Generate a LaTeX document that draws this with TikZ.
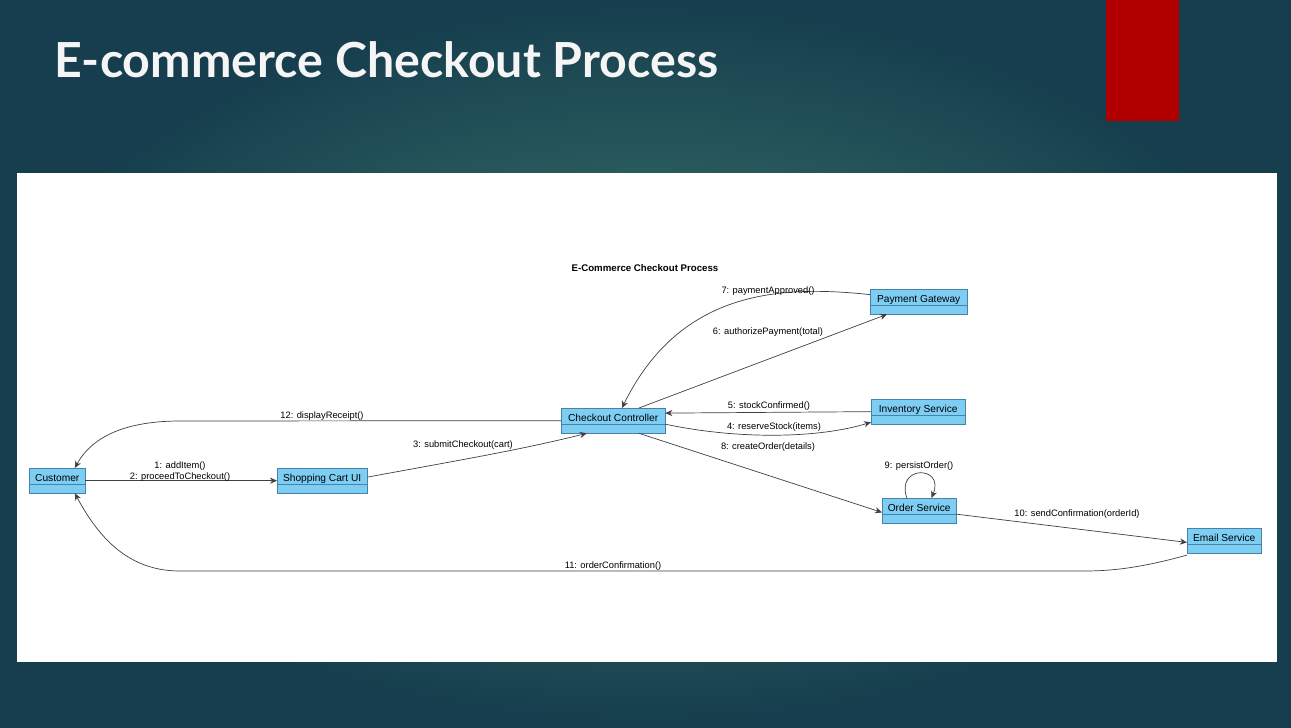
\documentclass[tikz,border=0pt]{standalone}
\usepackage{fontspec}
\setmainfont{Liberation Sans}
\newfontfamily\titlefont{Lato}
\usetikzlibrary{arrows.meta, positioning}
\definecolor{objfill}{RGB}{126,206,244}
\definecolor{objdraw}{RGB}{70,130,170}

\begin{document}
\begin{tikzpicture}[
    x=0.02cm, y=-0.02cm,
    obj/.style={draw=objdraw, fill=objfill, rectangle, inner xsep=2pt, inner ysep=1.5pt,
        text height=6pt, text depth=5pt, font=\fontsize{5.8}{7}\selectfont, anchor=north west,
        path picture={\draw[objdraw] ([yshift=-9pt]path picture bounding box.north west) -- ([yshift=-9pt]path picture bounding box.north east);}},
    msg/.style={-{Stealth[length=4pt, width=3.5pt]}, black!75, line width=0.4pt},
    lbl/.style={font=\fontsize{5.3}{6}\selectfont, inner sep=1pt}
]

    % Slide background
    \useasboundingbox (0,0) rectangle (1291,727);
    \shade[inner color={rgb,255:red,60;green,120;blue,108}, outer color={rgb,255:red,22;green,62;blue,78}] (0,0) rectangle (1291,727);
    \fill[red!70!black] (1106,0) rectangle (1179,121);
    \node[anchor=west, text=white!92!gray, font=\titlefont\bfseries\fontsize{27.5}{30}\selectfont] (slidetitle) at (48,60) {E-commerce Checkout Process};
    \fill[white] (17,173) rectangle (1277,662);

    % Diagram title
    \node[font=\bfseries\fontsize{5.5}{6}\selectfont] (dtitle) at (645,268) {E-Commerce Checkout Process};

    % Objects
    \node[obj, minimum width=56*0.567pt] (customer) at (29,468) {Customer};
    \node[obj, minimum width=90*0.567pt] (cart) at (277,468) {Shopping Cart UI};
    \node[obj, minimum width=104*0.567pt] (checkout) at (561,408) {Checkout Controller};
    \node[obj, minimum width=97*0.567pt] (payment) at (870,289) {Payment Gateway};
    \node[obj, minimum width=94*0.567pt] (inventory) at (871,399) {Inventory Service};
    \node[obj, minimum width=74*0.567pt] (order) at (882,498) {Order Service};
    \node[obj, minimum width=74*0.567pt] (email) at (1187,528) {Email Service};

    % Messages
    \draw[msg] (customer.east) -- (cart.west);
    \node[lbl] (m1) at (180,466) {1: addItem()};
    \node[lbl] (m2) at (180,477) {2: proceedToCheckout()};

    \draw[msg] ([yshift=2pt]cart.east) .. controls (460,460) and (520,450) .. ([xshift=-15pt]checkout.south);
    \node[lbl] (m3) at (463,445) {3: submitCheckout(cart)};

    \draw[msg] (checkout.west) -- (180,421) .. controls (120,421) and (90,440) .. ([xshift=10pt]customer.north);
    \node[lbl] (m12) at (322,416) {12: displayReceipt()};

    \draw[msg] ([yshift=-2pt]checkout.east) .. controls (740,440) and (820,438) .. ([yshift=-6pt]inventory.west);
    \node[lbl] (m4) at (774,427) {4: reserveStock(items)};

    \draw[msg] (inventory.west) -- ([yshift=4.3pt]checkout.east);
    \node[lbl] (m5) at (769,406) {5: stockConfirmed()};

    \draw[msg] ([xshift=-15pt]checkout.north east) -- ([xshift=-18pt]payment.south);
    \node[lbl] (m6) at (768,332) {6: authorizePayment(total)};

    \draw[msg] ([yshift=4pt]payment.west) .. controls (780,285) and (680,290) .. ([xshift=5pt]checkout.north);
    \node[lbl] (m7) at (768,291) {7: paymentApproved()};

    \draw[msg] ([xshift=-15pt]checkout.south east) -- ([yshift=-1pt]order.west);
    \node[lbl] (m8) at (768,447) {8: createOrder(details)};

    \draw[msg] ([xshift=-7pt]order.north) .. controls (895,465) and (945,465) .. ([xshift=7pt]order.north);
    \node[lbl] (m9) at (919,466) {9: persistOrder()};

    \draw[msg] ([yshift=-2pt]order.east) -- ([yshift=-1pt]email.west);
    \node[lbl] (m10) at (1077,514) {10: sendConfirmation(orderId)};

    \draw[msg] ([yshift=-1pt]email.south west) .. controls (1130,571) and (1100,571) .. (1080,571) -- (180,571) .. controls (130,571) and (100,540) .. ([xshift=10pt]customer.south);
    \node[lbl] (m11) at (613,566) {11: orderConfirmation()};

\end{tikzpicture}
\end{document}
